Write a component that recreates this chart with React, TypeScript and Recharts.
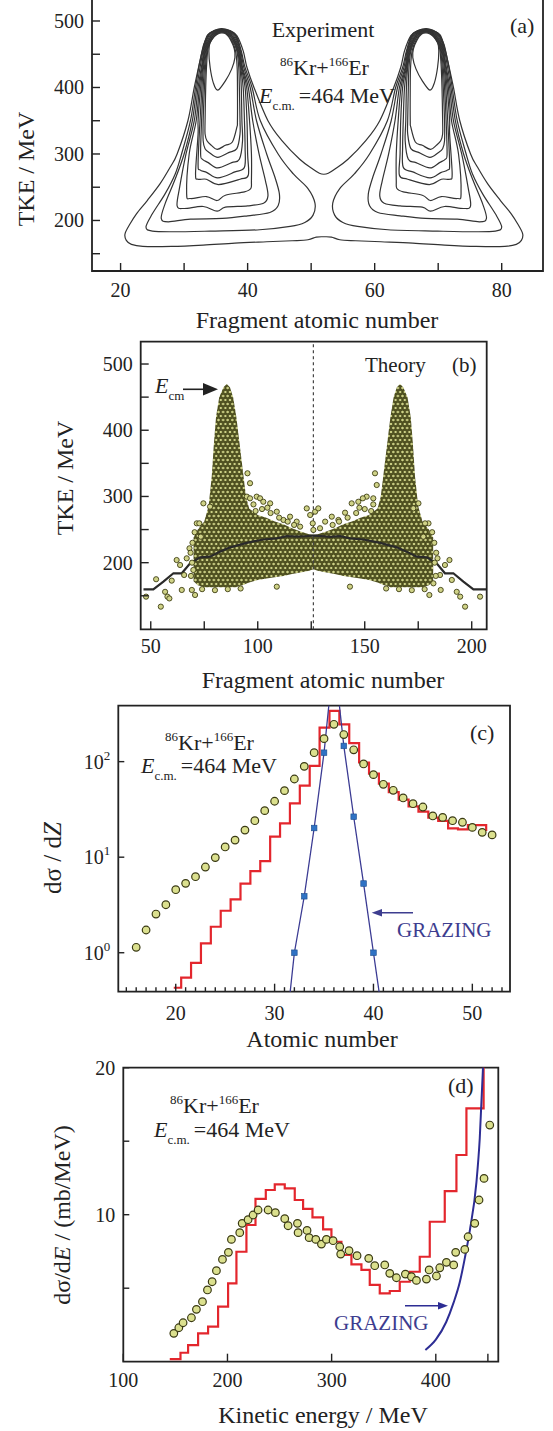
import React from 'react';
import { ComposedChart, Line, Area, Scatter, XAxis, YAxis, ReferenceArea, ReferenceLine } from 'recharts';

const SERIF = "'Liberation Serif', 'Times New Roman', serif";
const INK = '#222222';
const W = 553;

// ---------- (a) experiment: TKE vs Z contours ----------
// outermost contour encloses both lobes (saddle near Z = 52)
const contourOuter = [
  [20.7, 180], [21.5, 195], [22.5, 210], [24.2, 230], [26.2, 255], [27.8, 280], [28.9, 300], [30.6, 350], [31.6, 400],
  [32.5, 440], [33.1, 465], [33.9, 480], [34.8, 486], [35.9, 488.6], [37.1, 486], [38.3, 478], [39.3, 455], [39.9, 430],
  [41.0, 400], [43.2, 350], [45.4, 320], [48.2, 292], [50.3, 277], [51.3, 271], [52.0, 269.5], [52.7, 271], [53.7, 277],
  [55.8, 292], [58.6, 320], [60.8, 350], [63.0, 400], [64.1, 430], [64.7, 455], [65.7, 478], [66.9, 486], [68.1, 488.6],
  [69.2, 486], [70.1, 480], [70.9, 465], [71.5, 440], [72.4, 400], [73.4, 350], [75.1, 300], [76.2, 280], [77.8, 255],
  [79.8, 230], [81.5, 210], [82.5, 195], [83.3, 180], [83.1, 170], [82.3, 164], [80.5, 161], [76, 161], [71, 163],
  [66, 166], [61, 168], [57, 169.5], [54.5, 171], [53.2, 175], [52, 175.5], [50.8, 175], [49.5, 171], [47, 169.5],
  [43, 168], [38, 166], [33, 163], [28, 161], [23.5, 161], [21.7, 164], [20.9, 170],
];

const lobeLeft = [
  [[24.0, 190], [25.0, 210], [27.0, 240], [28.6, 270], [29.6, 300], [31.0, 350], [31.8, 400], [32.4, 435], [33.0, 460], [33.7, 479], [34.8, 485.5], [35.9, 488], [37.1, 485.5], [38.2, 478], [39.0, 455], [39.6, 430], [40.7, 400], [42.0, 350], [44.8, 300], [47.2, 270], [49.5, 248], [50.6, 226], [50.3, 208], [49.0, 197], [46.7, 191], [41.9, 186], [34.1, 184], [28.3, 183], [25.0, 184]],
  [[26.4, 203], [27.0, 225], [28.5, 260], [30.0, 300], [31.3, 350], [32.0, 400], [32.6, 435], [33.1, 460], [33.8, 479], [34.8, 485], [35.9, 487.4], [37.1, 485], [38.1, 478], [38.9, 455], [39.4, 430], [40.4, 400], [41.4, 350], [43.0, 300], [44.3, 265], [45.0, 240], [44.8, 222], [43.5, 212], [40.0, 207], [36.0, 203], [31.0, 202], [27.5, 198]],
  [[28.9, 222], [29.3, 250], [30.3, 300], [31.6, 350], [32.2, 400], [32.8, 435], [33.2, 460], [33.9, 478], [34.9, 484.5], [35.9, 486.8], [37.0, 484.5], [38.0, 477], [38.8, 455], [39.2, 430], [40.1, 400], [40.8, 350], [41.8, 300], [42.8, 260], [43.2, 237], [42.5, 226], [40.0, 222], [36.5, 220], [35.2, 214], [33.0, 221], [30.0, 218]],
  [[30.4, 240], [30.8, 300], [31.9, 350], [32.4, 400], [32.9, 435], [33.3, 460], [34.0, 477], [34.9, 484], [35.9, 486.2], [37.0, 484], [37.9, 476], [38.7, 455], [39.1, 430], [39.85, 400], [40.3, 350], [40.6, 300], [40.6, 260], [40.5, 248], [39.5, 243], [36.5, 238], [35.2, 230], [33.5, 236], [31.0, 233]],
  [[31.8, 270], [32.2, 330], [32.2, 350], [32.6, 400], [33.0, 435], [33.4, 460], [34.1, 476], [35.0, 483.5], [35.9, 485.6], [36.9, 483.5], [37.8, 475], [38.6, 455], [39.0, 430], [39.6, 400], [39.9, 350], [40.0, 300], [40.1, 268], [38.8, 262], [35.4, 254], [33.5, 262], [32.2, 262]],
  [[32.2, 285], [32.5, 350], [32.8, 400], [33.1, 435], [33.5, 460], [34.2, 476], [35.0, 483], [35.9, 485], [36.9, 483], [37.7, 475], [38.5, 455], [38.9, 430], [39.3, 400], [39.5, 350], [39.6, 310], [39.5, 280], [38.0, 273], [35.3, 264], [33.6, 272], [32.5, 276]],
  [[32.6, 300], [32.75, 350], [33.0, 400], [33.25, 435], [33.6, 460], [34.3, 475], [35.1, 482.5], [35.9, 484.4], [36.8, 482.5], [37.6, 474], [38.4, 455], [38.8, 430], [39.0, 400], [39.1, 350], [39.2, 320], [38.7, 292], [37.5, 287], [35.3, 279], [33.8, 287], [32.9, 292]],
  [[33.0, 320], [33.0, 350], [33.2, 400], [33.4, 435], [33.7, 460], [34.4, 475], [35.2, 482], [35.9, 483.8], [36.7, 482], [37.5, 474], [38.3, 455], [38.6, 430], [38.7, 400], [38.8, 350], [38.8, 330], [38.3, 308], [37.0, 302], [35.3, 295], [34.0, 302], [33.3, 308]],
  [[33.3, 330], [33.3, 350], [33.4, 400], [33.55, 435], [33.8, 460], [34.5, 474], [35.3, 481.5], [35.9, 483.2], [36.6, 481.5], [37.4, 473], [38.1, 455], [38.35, 430], [38.4, 400], [38.4, 350], [38.3, 340], [37.6, 318], [36.5, 313], [35.2, 307], [34.3, 313], [33.6, 320]],
  [[33.9, 455], [34.1, 468], [34.7, 476], [35.3, 480.5], [35.9, 482], [36.6, 480.5], [37.3, 472], [37.9, 458], [38.0, 445], [37.5, 428], [36.5, 410], [35.3, 396], [34.6, 407], [34.1, 430]],
];

const lobeRight = [
  [[80.0, 190], [79.0, 210], [77.0, 240], [75.4, 270], [74.4, 300], [73.0, 350], [72.2, 400], [71.6, 435], [71.0, 460], [70.3, 479], [69.2, 485.5], [68.1, 488], [66.9, 485.5], [65.8, 478], [65.0, 455], [64.4, 430], [63.3, 400], [62.0, 350], [59.2, 300], [56.8, 270], [54.5, 248], [53.4, 226], [53.7, 208], [55.0, 197], [57.3, 191], [62.1, 186], [69.9, 184], [75.7, 183], [79.0, 184]],
  [[77.6, 203], [77.0, 225], [75.5, 260], [74.0, 300], [72.7, 350], [72.0, 400], [71.4, 435], [70.9, 460], [70.2, 479], [69.2, 485], [68.1, 487.4], [66.9, 485], [65.9, 478], [65.1, 455], [64.6, 430], [63.6, 400], [62.6, 350], [61.0, 300], [59.7, 265], [59.0, 240], [59.2, 222], [60.5, 212], [64.0, 207], [68.0, 203], [73.0, 202], [76.5, 198]],
  [[75.1, 222], [74.7, 250], [73.7, 300], [72.4, 350], [71.8, 400], [71.2, 435], [70.8, 460], [70.1, 478], [69.1, 484.5], [68.1, 486.8], [67.0, 484.5], [66.0, 477], [65.2, 455], [64.8, 430], [63.9, 400], [63.2, 350], [62.2, 300], [61.2, 260], [60.8, 237], [61.5, 226], [64.0, 222], [67.5, 220], [68.8, 214], [71.0, 221], [74.0, 218]],
  [[73.6, 240], [73.2, 300], [72.1, 350], [71.6, 400], [71.1, 435], [70.7, 460], [70.0, 477], [69.1, 484], [68.1, 486.2], [67.0, 484], [66.1, 476], [65.3, 455], [64.9, 430], [64.15, 400], [63.7, 350], [63.4, 300], [63.4, 260], [63.5, 248], [64.5, 243], [67.5, 238], [68.8, 230], [70.5, 236], [73.0, 233]],
  [[72.2, 270], [71.8, 330], [71.8, 350], [71.4, 400], [71.0, 435], [70.6, 460], [69.9, 476], [69.0, 483.5], [68.1, 485.6], [67.1, 483.5], [66.2, 475], [65.4, 455], [65.0, 430], [64.4, 400], [64.1, 350], [64.0, 300], [63.9, 268], [65.2, 262], [68.6, 254], [70.5, 262], [71.8, 262]],
  [[71.8, 285], [71.5, 350], [71.2, 400], [70.9, 435], [70.5, 460], [69.8, 476], [69.0, 483], [68.1, 485], [67.1, 483], [66.3, 475], [65.5, 455], [65.1, 430], [64.7, 400], [64.5, 350], [64.4, 310], [64.5, 280], [66.0, 273], [68.7, 264], [70.4, 272], [71.5, 276]],
  [[71.4, 300], [71.25, 350], [71.0, 400], [70.75, 435], [70.4, 460], [69.7, 475], [68.9, 482.5], [68.1, 484.4], [67.2, 482.5], [66.4, 474], [65.6, 455], [65.2, 430], [65.0, 400], [64.9, 350], [64.8, 320], [65.3, 292], [66.5, 287], [68.7, 279], [70.2, 287], [71.1, 292]],
  [[71.0, 320], [71.0, 350], [70.8, 400], [70.6, 435], [70.3, 460], [69.6, 475], [68.8, 482], [68.1, 483.8], [67.3, 482], [66.5, 474], [65.7, 455], [65.4, 430], [65.3, 400], [65.2, 350], [65.2, 330], [65.7, 308], [67.0, 302], [68.7, 295], [70.0, 302], [70.7, 308]],
  [[70.7, 330], [70.7, 350], [70.6, 400], [70.45, 435], [70.2, 460], [69.5, 474], [68.7, 481.5], [68.1, 483.2], [67.4, 481.5], [66.6, 473], [65.9, 455], [65.65, 430], [65.6, 400], [65.6, 350], [65.7, 340], [66.4, 318], [67.5, 313], [68.8, 307], [69.7, 313], [70.4, 320]],
  [[70.1, 455], [69.9, 468], [69.3, 476], [68.7, 480.5], [68.1, 482], [67.4, 480.5], [66.7, 472], [66.1, 458], [66.0, 445], [66.5, 428], [67.5, 410], [68.7, 396], [69.4, 407], [69.9, 430]],
];

// ---------- (b) theory: TKE vs fragment number ----------
// filled band of the dense cloud: [Z, lowest TKE, highest TKE]
const cloudBand = [
  [70, 172, 238], [72, 166, 250], [75, 163, 262], [77, 163, 285], [78.5, 163, 330], [79.5, 163, 380], [80.5, 163, 420],
  [82, 163, 450], [84, 163, 465], [85.5, 163, 470], [87, 163, 465], [88.5, 163, 450], [90, 163, 420], [91.5, 165, 380],
  [93, 166, 340], [94.5, 168, 300], [96, 170, 282], [100, 174, 272], [104, 176, 268], [108, 178, 262], [112, 180, 258],
  [116, 183, 252], [120, 185, 247], [124, 188, 243], [126, 190, 242], [128, 188, 243], [132, 185, 247], [136, 183, 252],
  [140, 180, 258], [144, 178, 262], [148, 176, 268], [152, 174, 272], [156, 170, 282], [157.5, 168, 300], [159, 166, 340],
  [160.5, 165, 380], [162, 163, 420], [163.5, 163, 450], [165, 163, 465], [166.5, 163, 470], [168, 163, 465],
  [170, 163, 450], [171.5, 163, 420], [172.5, 163, 380], [173.5, 163, 330], [175, 163, 285], [177, 163, 262],
  [180, 166, 250], [182, 172, 238],
];
const cloudStray = [
  [47.8, 148.7], [52.5, 175], [54.7, 133.6], [56.7, 156], [57.8, 148.7], [58.7, 146], [59.8, 172.9], [62.1, 204], [63.7, 196.5],
  [64.5, 158.8], [65.6, 181.4], [66.8, 206.6], [68.1, 221.7], [69.2, 158.8], [69.9, 189], [70.7, 151.2], [71.5, 259.4],
  [72.7, 259.4], [73.4, 239.3], [74.6, 289.6], [77.7, 284.6], [95.2, 335], [96.4, 320], [94.9, 299.7], [96.4, 297.2],
  [99.5, 299.7], [101.1, 297.2], [102.6, 292], [105.8, 289.6], [108.9, 277], [108.9, 163.8], [112, 264.5], [115.1, 269.5],
  [118.2, 262], [119.8, 254.4], [122.9, 282], [124.5, 272], [125.7, 259.4], [126.8, 277], [128.3, 282], [126, 249.4],
  [68.8, 180], [69.3, 200], [68.6, 215], [69.5, 230], [70.5, 246], [74, 160], [80, 158.5], [86, 160], [92, 161],
  [98, 288], [102, 281], [106, 275], [110, 268], [114, 262], [117, 257], [99, 278], [104.5, 283],
  [203.9, 148.7], [196.9, 133.6], [194.6, 148.7], [193, 156], [190.7, 173.9], [189.6, 204], [187.5, 196.5], [185.5, 158.8],
  [185.2, 181.4], [184, 206.6], [182.1, 168.8], [180.2, 151.2], [179.8, 259.4], [178.2, 259.4], [177.4, 239.3],
  [175.1, 289.6], [172.7, 282.1], [154.8, 335], [155.6, 317.3], [154, 297.2], [150.9, 299.7], [149.1, 297.2], [147, 292],
  [143.9, 289.6], [140.8, 275.5], [143.1, 163.8], [137.7, 264.5], [134.6, 269.5], [131.5, 262], [129.1, 252],
  [183.2, 180], [182.7, 200], [183.4, 215], [182.5, 230], [181.5, 246], [178, 160], [172, 158.5], [166, 160], [160, 161],
  [154, 288], [150, 281], [146, 275], [142, 268], [138, 262], [135, 257], [153, 278], [147.5, 283],
];
const meanTke = [
  [46.6, 159.8], [51.2, 159.8], [55.9, 171.4], [60.6, 184], [64.5, 184], [68.4, 199], [73.1, 208], [77.7, 209], [82.4, 216.7],
  [87.1, 223.2], [94.9, 230], [102.6, 235], [108.9, 236.8], [113.6, 240], [118.2, 239.3], [122.9, 240], [126, 241],
  [129.9, 240], [133.8, 239], [138.5, 240], [143.1, 236.8], [149.4, 235], [157.2, 230], [165, 223.2], [169.6, 216.7],
  [174.3, 209], [179, 208], [183.6, 199], [187.5, 184], [191.4, 184], [196.1, 171.4], [200.8, 159.8], [206.7, 159.8],
];

// ---------- (c) dσ/dZ ----------
const expZ = [
  [16, 1.14], [17, 1.73], [18, 2.54], [19, 3.18], [20, 4.57], [21, 5.32], [22, 6.25], [23, 7.89], [24, 9.9], [25, 12.8],
  [26, 15.1], [27, 19.2], [28, 24.1], [29, 30.7], [30, 38.5], [31, 49.7], [32, 65.8], [33, 89.3], [34, 124], [35, 174],
  [36, 246], [37, 192], [38, 133], [39, 94.6], [40, 73.1], [41, 57.9], [42, 50.1], [43, 41.7], [44, 36.3], [45, 33.5],
  [46, 27], [47, 26.1], [48, 24.1], [49, 23.2], [50, 20.5], [51, 18.2], [52, 17.1],
];
// histogram: left bin edge, value
const theoryZ = [
  [19.8, 0.43], [20.55, 0.55], [21.55, 0.785], [22.55, 1.25], [23.55, 1.87], [24.55, 2.75], [25.55, 3.62], [26.55, 5.3],
  [27.55, 7.16], [28.55, 9.1], [29.55, 16.4], [30.55, 22.6], [31.55, 36.6], [32.55, 56.1], [33.55, 90.1], [34.55, 227],
  [35.55, 340], [36.55, 246], [37.55, 156], [38.55, 98], [39.55, 75], [40.55, 59], [41.55, 48], [42.55, 40], [43.55, 34],
  [44.55, 30], [45.55, 26], [46.55, 24], [47.55, 20], [48.55, 19.5], [49.55, 21.7], [51.4, 21.7], [51.4, 18.8],
];
const grazingZ = [[32, 1.0], [33, 3.9], [34, 20.2], [35, 124], [37, 146], [38, 26.5], [39, 5.3], [40, 1.0]];
const grazingZLine = [
  [31.5, 0.33], [32, 1.0], [33, 3.9], [34, 20.2], [35, 124], [36, 1300], [37, 146], [38, 26.5], [39, 5.3], [40, 1.0], [40.6, 0.37],
];

// ---------- (d) dσ/dE ----------
const expE = [
  [148.5, 1.93], [153.3, 2.31], [157.4, 2.65], [165.4, 2.99], [170.2, 3.56], [176.0, 4.08], [180.8, 4.88], [185.3, 5.44],
  [189.4, 6.19], [195.2, 6.96], [200.9, 7.44], [203.8, 8.32], [211.8, 8.78], [214.1, 9.41], [219.8, 9.66], [224.6, 9.98],
  [229.4, 10.32], [239.0, 10.32], [246.0, 10.14], [255.0, 9.73], [258.2, 9.25], [267.2, 9.41], [267.8, 8.78], [276.4, 8.93],
  [278.4, 8.44], [284.8, 8.32], [290.2, 8.0], [295.0, 8.32], [301.4, 8.23], [307.8, 7.82], [308.7, 7.32], [316.7, 7.55],
  [324.4, 7.21], [335.6, 7.03], [341.4, 6.53], [351.0, 6.58], [355.8, 6.01], [362.2, 5.71], [370.8, 5.96], [376.6, 5.78],
  [381.4, 5.53], [391.0, 5.62], [393.6, 6.24], [400.6, 5.83], [403.8, 6.39], [410.2, 6.76], [417.2, 6.58], [419.1, 7.44],
  [427.8, 7.64], [431.0, 8.5], [437.4, 9.41], [441.5, 11.0], [446.3, 12.47], [451.8, 16.1],
];
const theoryE = [
  [144.6, 0.18], [154.9, 0.61], [162.2, 1.13], [171.8, 1.93], [181.4, 2.38], [191, 3.74], [200.6, 5.33], [208.6, 7.48],
  [218.2, 9.3], [226.9, 11.07], [236.8, 11.68], [245.4, 12.06], [255, 11.79], [264.6, 11.0], [272.6, 10.39], [281.6, 9.82],
  [291.8, 9.0], [299.8, 8.16], [309.4, 7.26], [319, 6.62], [328.6, 6.24], [336.6, 5.22], [346.2, 4.65], [355.8, 4.81],
  [365.4, 5.44], [375, 6.12], [384.6, 7.14], [394.2, 9.52], [408.6, 11.61], [419.8, 14.06], [429.4, 17.23], [445.9, 25],
];
const grazingE = [
  [390, 0.8], [400, 1.5], [410, 2.7], [417, 4.0], [423, 5.4], [428, 7.1], [432.6, 8.9], [439, 12.2], [442.2, 15.2], [445.3, 20], [447, 23],
];

// axis ticks
const aXTicks = [20, 30, 40, 50, 60, 70, 80];
const aYTicks = [150, 200, 250, 300, 350, 400, 450, 500];
const bXTicks = [50, 75, 100, 125, 150, 175, 200];
const bYTicks = [150, 200, 250, 300, 350, 400, 450, 500];
const cXTicks = [15, 16, 17, 18, 19, 20, 21, 22, 23, 24, 25, 26, 27, 28, 29, 30, 31, 32, 33, 34, 35, 36, 37, 38, 39, 40, 41, 42, 43, 44, 45, 46, 47, 48, 49, 50, 51, 52, 53];
const cYTicks = [1, 10, 100];
const dXTicks = [100, 200, 300, 400, 450];
const dYTicks = [5, 10, 15, 20];

const xy = (a: number[][]) => a.map(([x, y]) => ({ x, y }));

// closed Catmull-Rom curve for contour loops
const closedSpline = (ctx: any) => {
  let p: number[][] = [];
  return {
    areaStart() {},
    areaEnd() {},
    lineStart() { p = []; },
    point(x: number, y: number) { p.push([x, y]); },
    lineEnd() {
      const n = p.length;
      if (!n) return;
      ctx.moveTo(p[0][0], p[0][1]);
      for (let i = 0; i < n; i++) {
        const a = p[(i + n - 1) % n], b = p[i], c = p[(i + 1) % n], d = p[(i + 2) % n];
        ctx.bezierCurveTo(b[0] + (c[0] - a[0]) / 6, b[1] + (c[1] - a[1]) / 6, c[0] - (d[0] - b[0]) / 6, c[1] - (d[1] - b[1]) / 6, c[0], c[1]);
      }
      ctx.closePath();
    },
  };
};

const bottomTick = (labels: number[], dy: number, len: (v: number) => number) => (p: any) => {
  const v = p.payload.value;
  return (
    <g>
      <line x1={p.x} x2={p.x} y1={p.y} y2={p.y - len(v)} stroke={INK} strokeWidth={1.4} />
      {labels.includes(v) ? (
        <text x={p.x} y={p.y + dy} textAnchor="middle" fontSize={20} fontFamily={SERIF} fill={INK}>{v}</text>
      ) : null}
    </g>
  );
};

const leftTick = (labels: number[], len: number, fmt?: (v: number) => React.ReactNode) => (p: any) => {
  const v = p.payload.value;
  return (
    <g>
      <line x1={p.x} x2={p.x + len} y1={p.y} y2={p.y} stroke={INK} strokeWidth={1.4} />
      {labels.includes(v) ? (
        <text x={p.x - 8} y={p.y + 7} textAnchor="end" fontSize={20} fontFamily={SERIF} fill={INK}>{fmt ? fmt(v) : v}</text>
      ) : null}
    </g>
  );
};

const powTen = (v: number) => (
  <>
    10<tspan fontSize={13} dy={-9}>{Math.round(Math.log10(v))}</tspan>
  </>
);

const margins = (top: number, height: number, l: number, r: number, t: number, b: number) => ({
  top: t - top, bottom: top + height - b - 20, left: l - 30, right: W - r,
});

const frame = (x: number[], y: number[]) => (
  <ReferenceArea x1={x[0]} x2={x[1]} y1={y[0]} y2={y[1]} fill="none" stroke={INK} strokeWidth={1.8} ifOverflow="visible" />
);

const circleShape = (r: number, fill: string, stroke: string, sw: number) => (p: any) => (
  <circle cx={p.cx} cy={p.cy} r={r} fill={fill} stroke={stroke} strokeWidth={sw} />
);
const squareShape = (p: any) => (
  <rect x={p.cx - 2.8} y={p.cy - 2.8} width={5.6} height={5.6} fill="#2f72c4" stroke="#1d4c8c" strokeWidth={0.6} />
);

const A_DOM_X = [15.5, 86.5];
const A_DOM_Y = [124, 540];
const B_DOM_X = [45.3, 207];
const B_DOM_Y = [99.4, 533.7];
const C_DOM_X = [14.19, 53.81];
const C_DOM_Y = [0.391, 385];
const D_DOM_X = [100, 460];
const D_DOM_Y = [0, 20];

const PanelA = () => (
  <div style={{ position: 'absolute', left: 0, top: -20 }}>
    <ComposedChart width={W} height={320} margin={margins(-20, 320, 92, 543, -5.6, 271)}>
      <XAxis type="number" dataKey="x" domain={A_DOM_X} ticks={aXTicks} interval={0} allowDataOverflow height={20}
        tickSize={0} tickMargin={0} tickLine={false} axisLine={false} tick={bottomTick([20, 40, 60, 80], 26, () => 8)} />
      <YAxis type="number" dataKey="y" domain={A_DOM_Y} ticks={aYTicks} interval={0} allowDataOverflow width={30}
        tickSize={0} tickMargin={0} tickLine={false} axisLine={false} tick={leftTick([200, 300, 400, 500], 8)} />
      <Line data={xy(contourOuter)} dataKey="y" type={closedSpline as any} stroke="#333" strokeWidth={1.2}
        dot={false} activeDot={false} isAnimationActive={false} />
      {lobeLeft.concat(lobeRight).map((c, i) => (
        <Line key={i} data={xy(c)} dataKey="y" type={closedSpline as any} stroke="#333" strokeWidth={1.2}
          dot={false} activeDot={false} isAnimationActive={false} />
      ))}
      {frame(A_DOM_X, A_DOM_Y)}
    </ComposedChart>
  </div>
);

const PanelB = () => (
  <div style={{ position: 'absolute', left: 0, top: 330 }}>
    <ComposedChart width={W} height={335} data={cloudBand.map(([x, lo, hi]) => ({ x, band: [lo, hi] }))}
      margin={margins(330, 335, 140.7, 486.7, 341.7, 629.3)}>
      <defs>
        <pattern id="cloudDots" width="4.6" height="8" patternUnits="userSpaceOnUse">
          <rect width="4.6" height="8" fill="#54551f" />
          <circle cx="2.3" cy="2" r="1.75" fill="#cdd185" stroke="#2f300d" strokeWidth="0.7" />
          <circle cx="0" cy="6" r="1.75" fill="#cdd185" stroke="#2f300d" strokeWidth="0.7" />
          <circle cx="4.6" cy="6" r="1.75" fill="#cdd185" stroke="#2f300d" strokeWidth="0.7" />
        </pattern>
      </defs>
      <XAxis type="number" dataKey="x" domain={B_DOM_X} ticks={bXTicks} interval={0} allowDataOverflow height={20}
        tickSize={0} tickMargin={0} tickLine={false} axisLine={false} tick={bottomTick([50, 100, 150, 200], 24, () => 8)} />
      <YAxis type="number" dataKey="y" domain={B_DOM_Y} ticks={bYTicks} interval={0} allowDataOverflow width={30}
        tickSize={0} tickMargin={0} tickLine={false} axisLine={false} tick={leftTick([200, 300, 400, 500], 8)} />
      <Area dataKey="band" type="linear" stroke="none" fill="url(#cloudDots)" fillOpacity={1}
        dot={false} activeDot={false} isAnimationActive={false} />
      <Scatter data={xy(cloudStray)} dataKey="y" shape={circleShape(2.6, '#cfd287', '#3f4015', 0.9)} isAnimationActive={false} />
      <ReferenceLine x={126} stroke="#444" strokeWidth={1.2} strokeDasharray="3 3" />
      <Line data={xy(meanTke)} dataKey="y" type="linear" stroke="#2a2a2a" strokeWidth={2.2}
        dot={false} activeDot={false} isAnimationActive={false} />
      {frame(B_DOM_X, B_DOM_Y)}
    </ComposedChart>
  </div>
);

const PanelC = () => (
  <div style={{ position: 'absolute', left: 0, top: 690 }}>
    <ComposedChart width={W} height={340} margin={margins(690, 340, 118.3, 510, 705.7, 991.7)}>
      <XAxis type="number" dataKey="x" domain={C_DOM_X} ticks={cXTicks} interval={0} allowDataOverflow height={20}
        tickSize={0} tickMargin={0} tickLine={false} axisLine={false}
        tick={bottomTick([20, 30, 40, 50], 28, (v) => (v % 10 === 0 ? 8 : 4.5))} />
      <YAxis type="number" dataKey="y" scale="log" domain={C_DOM_Y} ticks={cYTicks} interval={0} allowDataOverflow width={30}
        tickSize={0} tickMargin={0} tickLine={false} axisLine={false} tick={leftTick([1, 10, 100], 6, powTen)} />
      <Line data={xy(theoryZ)} dataKey="y" type="stepAfter" stroke="#e3262d" strokeWidth={2.2}
        dot={false} activeDot={false} isAnimationActive={false} />
      <Line data={xy(grazingZLine)} dataKey="y" type="linear" stroke="#3b3b93" strokeWidth={1.3}
        dot={false} activeDot={false} isAnimationActive={false} />
      <Scatter data={xy(grazingZ)} dataKey="y" shape={squareShape} isAnimationActive={false} />
      <Scatter data={xy(expZ)} dataKey="y" shape={circleShape(3.8, '#dbe08e', '#3a3a14', 1.2)} isAnimationActive={false} />
      {frame(C_DOM_X, C_DOM_Y)}
    </ComposedChart>
  </div>
);

const PanelD = () => (
  <div style={{ position: 'absolute', left: 0, top: 1055 }}>
    <ComposedChart width={W} height={345} margin={margins(1055, 345, 123.3, 498.3, 1067.7, 1361.7)}>
      <XAxis type="number" dataKey="x" domain={D_DOM_X} ticks={dXTicks} interval={0} allowDataOverflow height={20}
        tickSize={0} tickMargin={0} tickLine={false} axisLine={false} tick={bottomTick([100, 200, 300, 400], 25, () => 8)} />
      <YAxis type="number" dataKey="y" domain={D_DOM_Y} ticks={dYTicks} interval={0} allowDataOverflow width={30}
        tickSize={0} tickMargin={0} tickLine={false} axisLine={false} tick={leftTick([10, 20], 6)} />
      <Line data={xy(theoryE)} dataKey="y" type="stepAfter" stroke="#e3262d" strokeWidth={2.2}
        dot={false} activeDot={false} isAnimationActive={false} />
      <Line data={xy(grazingE)} dataKey="y" type="monotone" stroke="#2d2d94" strokeWidth={2}
        dot={false} activeDot={false} isAnimationActive={false} />
      <Scatter data={xy(expE)} dataKey="y" shape={circleShape(3.8, '#dbe08e', '#3a3a14', 1.2)} isAnimationActive={false} />
      {frame(D_DOM_X, D_DOM_Y)}
    </ComposedChart>
  </div>
);

const Reaction = ({ x, y }: { x: number; y: number }) => (
  <text x={x} y={y} fontSize={22}>
    <tspan fontSize={13} dy={-9}>86</tspan>
    <tspan dy={9}>Kr+</tspan>
    <tspan fontSize={13} dy={-9}>166</tspan>
    <tspan dy={9}>Er</tspan>
  </text>
);
const Energy = ({ x, y }: { x: number; y: number }) => (
  <text x={x} y={y} fontSize={22}>
    <tspan fontStyle="italic">E</tspan>
    <tspan fontSize={13} dy={7}>c.m.</tspan>
    <tspan dy={-7} dx={4}>=464 MeV</tspan>
  </text>
);
const VTitle = ({ x, y, children, size = 24 }: { x: number; y: number; children: React.ReactNode; size?: number }) => (
  <text transform={`translate(${x},${y}) rotate(-90)`} textAnchor="middle" dominantBaseline="central" fontSize={size}>
    {children}
  </text>
);

const Labels = () => (
  <svg width={W} height={1431} style={{ position: 'absolute', left: 0, top: 0, pointerEvents: 'none' }}
    fontFamily={SERIF} fill={INK}>
    {/* (a) */}
    <VTitle x={26} y={169}>TKE / MeV</VTitle>
    <text x={317} y={328} textAnchor="middle" fontSize={24}>Fragment atomic number</text>
    <text x={323} y={37} textAnchor="middle" fontSize={22}>Experiment</text>
    <Reaction x={280} y={75} />
    <Energy x={259} y={102.7} />
    <text x={510} y={33} fontSize={22}>(a)</text>
    {/* (b) */}
    <VTitle x={65} y={478}>TKE / MeV</VTitle>
    <text x={323} y={688} textAnchor="middle" fontSize={24}>Fragment atomic number</text>
    <text x={365} y={371.7} fontSize={21}>Theory</text>
    <text x={452} y={371.7} fontSize={21}>(b)</text>
    <text x={155} y={393} fontSize={22}>
      <tspan fontStyle="italic">E</tspan>
      <tspan fontSize={13} dy={7}>cm</tspan>
    </text>
    <line x1={183} x2={205} y1={389.3} y2={389.3} stroke={INK} strokeWidth={1.6} />
    <polygon points="203,383 218,389.3 203,395.6" fill={INK} />
    {/* (c) */}
    <VTitle x={52} y={858} size={25}>
      dσ / d<tspan fontStyle="italic">Z</tspan>
    </VTitle>
    <text x={322} y={1047} textAnchor="middle" fontSize={24}>Atomic number</text>
    <Reaction x={165} y={750} />
    <Energy x={141} y={773} />
    <text x={470} y={740} fontSize={22}>(c)</text>
    <text x={397} y={937} fontSize={21} fill="#3d3d8f">GRAZING</text>
    <line x1={413} x2={380} y1={912.7} y2={912.7} stroke="#3d3d8f" strokeWidth={1.6} />
    <polygon points="371.7,912.7 382,909 382,916.4" fill="#3d3d8f" />
    {/* (d) */}
    <VTitle x={62} y={1215}>
      dσ/d<tspan fontStyle="italic">E</tspan> / (mb/MeV)
    </VTitle>
    <text x={323} y={1423} textAnchor="middle" fontSize={24}>Kinetic energy / MeV</text>
    <Reaction x={170} y={1113} />
    <Energy x={154} y={1137} />
    <text x={448} y={1093} fontSize={22}>(d)</text>
    <text x={334} y={1330} fontSize={21} fill="#3d3d8f">GRAZING</text>
    <line x1={405} x2={440} y1={1305.7} y2={1305.7} stroke="#2d2d94" strokeWidth={1.6} />
    <polygon points="448,1305.7 438,1302 438,1309.4" fill="#2d2d94" />
  </svg>
);

export default function App() {
  return (
    <div style={{ position: 'absolute', left: 0, top: 0, width: W, height: 1431, background: '#fff', overflow: 'hidden' }}>
      <PanelA />
      <PanelB />
      <PanelC />
      <PanelD />
      <Labels />
    </div>
  );
}
